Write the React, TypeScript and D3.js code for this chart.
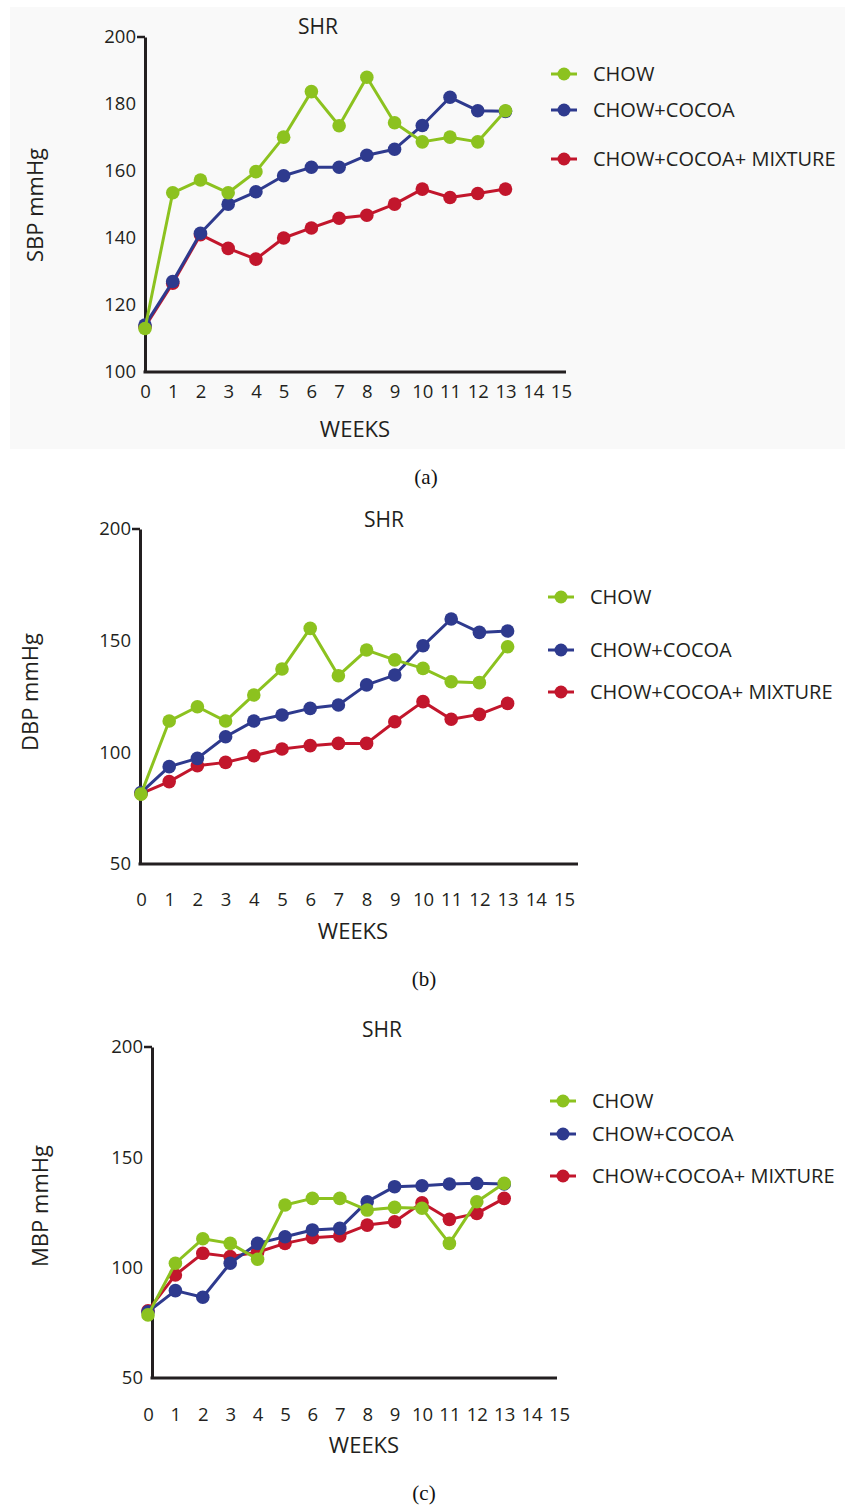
import React, { useEffect, useRef } from 'react';
import * as d3 from 'd3';

// weeks on the x axis
const weeks = [0, 1, 2, 3, 4, 5, 6, 7, 8, 9, 10, 11, 12, 13];
const weekTicks = [0, 1, 2, 3, 4, 5, 6, 7, 8, 9, 10, 11, 12, 13, 14, 15];

const seriesNames = ['CHOW', 'CHOW+COCOA', 'CHOW+COCOA+ MIXTURE'];
const seriesColors = ['#8cc21f', '#2e3a8e', '#c2162c'];

// systolic
const sbpChow = [113, 153.5, 157.3, 153.5, 159.8, 170.1, 183.7, 173.5, 188.0, 174.4, 168.7, 170.1, 168.7, 178.0];
const sbpCocoa = [114, 127.0, 141.4, 150.1, 153.8, 158.6, 161.1, 161.1, 164.7, 166.5, 173.6, 182.0, 178.0, 177.8];
const sbpMixture = [113.5, 126.5, 141, 136.9, 133.7, 140.0, 143.0, 145.9, 146.8, 150.1, 154.6, 152.1, 153.3, 154.6];
const sbpTicks = [100, 120, 140, 160, 180, 200];

// diastolic
const dbpChow = [81.3, 114.0, 120.4, 114.0, 125.7, 137.3, 155.5, 134.3, 145.8, 141.4, 137.6, 131.6, 131.2, 147.3];
const dbpCocoa = [82, 93.6, 97.3, 107.0, 114.0, 116.7, 119.7, 121.2, 130.2, 134.6, 147.7, 159.7, 153.7, 154.3];
const dbpMixture = [81.5, 86.9, 94.0, 95.5, 98.5, 101.5, 103.0, 104.0, 104.0, 113.7, 122.7, 114.8, 117.0, 121.9];

// mean
const mbpChow = [78.6, 102.0, 113.1, 111.0, 103.8, 128.4, 131.4, 131.4, 126.1, 127.3, 126.9, 111.0, 129.9, 138.2];
const mbpCocoa = [80, 89.6, 86.6, 102.0, 111.0, 114.0, 117.1, 117.8, 129.9, 136.7, 137.1, 137.9, 138.2, 137.9];
const mbpMixture = [80.5, 96.7, 106.5, 105.0, 107.0, 111.0, 113.6, 114.4, 119.3, 120.8, 129.4, 121.9, 124.6, 131.4];
const bpTicks = [50, 100, 150, 200];

const FONT = "'Open Sans', sans-serif";
const INK = '#231f20';

const panels = [
  {
    series: [sbpChow, sbpCocoa, sbpMixture], yLabel: 'SBP mmHg', caption: '(a)', yTicks: sbpTicks,
    top: 37, bottom: 372, left: 145, x0: 145, step: 27.73, xEnd: 566, tickY: 392,
    title: [318, 26], yLab: [35, 205], weeksPos: [355, 429], capPos: [426, 476],
    legendX: 564, legendY: [74, 110, 159], bg: true,
  },
  {
    series: [dbpChow, dbpCocoa, dbpMixture], yLabel: 'DBP mmHg', caption: '(b)', yTicks: bpTicks,
    top: 529, bottom: 864, left: 140, x0: 141, step: 28.2, xEnd: 578, tickY: 900,
    title: [384, 519], yLab: [30, 692], weeksPos: [353, 931], capPos: [424, 978],
    legendX: 561, legendY: [597, 650, 692], bg: false,
  },
  {
    series: [mbpChow, mbpCocoa, mbpMixture], yLabel: 'MBP mmHg', caption: '(c)', yTicks: bpTicks,
    top: 1047, bottom: 1378, left: 152, x0: 148, step: 27.4, xEnd: 557, tickY: 1415,
    title: [382, 1029], yLab: [40, 1206], weeksPos: [364, 1445], capPos: [424, 1492],
    legendX: 563, legendY: [1101, 1134, 1176], bg: false,
  },
];

const App = () => {
  const ref = useRef(null);

  useEffect(() => {
    const svg = d3.select(ref.current);
    svg.selectAll('*').remove();

    panels.forEach(p => {
      const g = svg.append('g');
      if (p.bg) {
        g.append('rect').attr('x', 10).attr('y', 7).attr('width', 835).attr('height', 442).attr('fill', '#f9f9f9');
      }

      const x = d3.scaleLinear().domain([0, 15]).range([p.x0, p.x0 + p.step * 15]);
      const y = d3.scaleLinear().domain([p.yTicks[0], p.yTicks[p.yTicks.length - 1]]).range([p.bottom, p.top]);

      // y axis
      const yAxis = g.append('g')
        .attr('transform', `translate(${p.left},0)`)
        .call(d3.axisLeft(y).tickValues(p.yTicks).tickSize(0).tickSizeOuter(0).tickPadding(9));
      yAxis.select('.domain').attr('stroke', INK).attr('stroke-width', 3);
      yAxis.selectAll('text').attr('font-family', FONT).attr('font-size', 18.5).attr('fill', INK);
      // little tick at the top only
      g.append('line')
        .attr('x1', p.left - 8).attr('x2', p.left)
        .attr('y1', y(p.yTicks[p.yTicks.length - 1])).attr('y2', y(p.yTicks[p.yTicks.length - 1]))
        .attr('stroke', INK).attr('stroke-width', 2.5);

      // x axis
      g.append('line')
        .attr('x1', p.left - 1.5).attr('x2', p.xEnd)
        .attr('y1', p.bottom).attr('y2', p.bottom)
        .attr('stroke', INK).attr('stroke-width', 3);
      const xAxis = g.append('g')
        .attr('transform', `translate(0,${p.bottom})`)
        .call(d3.axisBottom(x).tickValues(weekTicks).tickSize(0).tickFormat(d3.format('d')).tickPadding(p.tickY - p.bottom - 7));
      xAxis.select('.domain').remove();
      xAxis.selectAll('text').attr('font-family', FONT).attr('font-size', 18.5).attr('fill', INK);

      const line = d3.line()
        .x((d, i) => x(weeks[i]))
        .y(d => y(d));

      // red first, green on top
      [2, 1, 0].forEach(si => {
        const vals = p.series[si];
        g.append('path')
          .datum(vals)
          .attr('fill', 'none')
          .attr('stroke', seriesColors[si])
          .attr('stroke-width', 3)
          .attr('stroke-linejoin', 'round')
          .attr('d', line);
        g.selectAll(null)
          .data(vals)
          .join('circle')
          .attr('cx', (d, i) => x(weeks[i]))
          .attr('cy', d => y(d))
          .attr('r', 6.8)
          .attr('fill', seriesColors[si]);
      });

      // legend
      seriesNames.forEach((name, si) => {
        const ly = p.legendY[si];
        g.append('line')
          .attr('x1', p.legendX - 13).attr('x2', p.legendX + 13)
          .attr('y1', ly).attr('y2', ly)
          .attr('stroke', seriesColors[si]).attr('stroke-width', 3);
        g.append('circle').attr('cx', p.legendX).attr('cy', ly).attr('r', 6.5).attr('fill', seriesColors[si]);
        g.append('text')
          .attr('x', p.legendX + 29).attr('y', ly).attr('dy', '0.36em')
          .attr('font-family', FONT).attr('font-size', 20).attr('fill', INK)
          .text(name);
      });

      // titles
      g.append('text')
        .attr('x', p.title[0]).attr('y', p.title[1]).attr('dy', '0.36em')
        .attr('text-anchor', 'middle').attr('font-family', FONT).attr('font-size', 21).attr('fill', INK)
        .text('SHR');
      g.append('text')
        .attr('transform', `translate(${p.yLab[0]},${p.yLab[1]}) rotate(-90)`)
        .attr('dy', '0.36em')
        .attr('text-anchor', 'middle').attr('font-family', FONT).attr('font-size', 22).attr('fill', INK)
        .text(p.yLabel);
      g.append('text')
        .attr('x', p.weeksPos[0]).attr('y', p.weeksPos[1]).attr('dy', '0.36em')
        .attr('text-anchor', 'middle').attr('font-family', FONT).attr('font-size', 22).attr('fill', INK)
        .text('WEEKS');
      g.append('text')
        .attr('x', p.capPos[0]).attr('y', p.capPos[1]).attr('dy', '0.36em')
        .attr('text-anchor', 'middle').attr('font-family', "'Liberation Serif', serif").attr('font-size', 21).attr('fill', '#111')
        .text(p.caption);
    });
  }, []);

  return (
    <svg ref={ref} width={847} height={1506}
      style={{ position: 'absolute', left: 0, top: 0, background: '#fff' }} />
  );
};

export default App;
